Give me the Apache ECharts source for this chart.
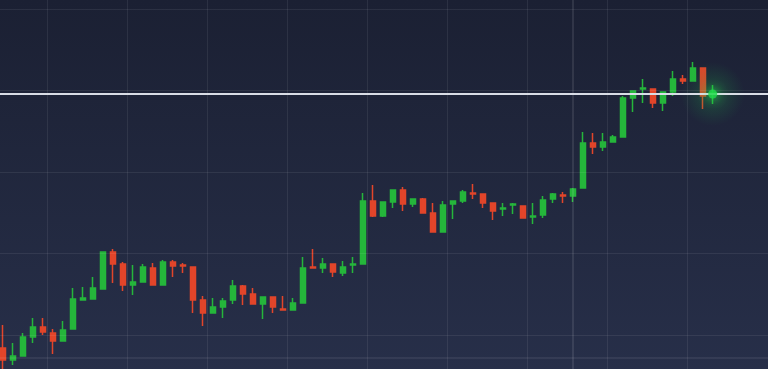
<!DOCTYPE html>
<html><head><meta charset="utf-8">
<script src="https://cdn.jsdelivr.net/npm/echarts@6/dist/echarts.min.js"></script>
<style>html,body{margin:0;padding:0;background:#1e2438;overflow:hidden;}#c{width:768px;height:369px;}</style>
</head><body><div id="c"></div>
<script>
// Candle data (price units; grid lines every 10)
const opens  = [8.40,6.93,7.42,9.75,10.98,10.25,9.26,10.74,14.29,14.42,15.64,20.18,18.71,16.13,16.50,18.22,16.13,18.96,18.59,18.34,
                14.29,12.70,13.44,14.29,16.01,15.03,13.80,14.66,13.19,13.07,13.93,18.34,18.22,18.71,17.61,18.59,18.71,26.44,24.60,26.32,
                27.79,26.07,26.69,24.97,22.64,26.07,26.44,27.42,27.30,26.20,25.46,25.95,25.83,24.48,24.72,26.69,27.18,27.06,28.04,33.56,
                33.07,33.68,34.29,39.08,40.18,40.18,38.47,39.82,41.41,41.17,42.76,39.57];
const closes = [6.93,7.42,9.75,10.98,10.37,9.26,10.61,14.42,14.54,15.77,20.18,18.71,16.13,16.50,18.34,16.13,18.96,18.47,18.47,14.29,
                12.70,13.44,14.17,16.01,15.03,13.80,14.66,13.44,13.07,13.93,18.22,18.22,18.71,17.73,18.34,18.71,26.44,24.60,26.32,27.79,
                26.07,26.69,24.97,22.64,25.95,26.44,27.55,27.30,26.20,25.21,25.58,26.07,24.36,24.60,26.56,27.30,27.06,27.91,33.56,33.07,
                33.68,34.29,39.08,39.94,40.31,38.47,39.82,41.41,41.17,42.76,39.33,39.69];
const lows   = [5.46,6.32,7.42,9.02,10.00,7.67,9.26,10.74,14.29,14.42,15.64,16.38,15.40,14.91,16.50,16.13,16.13,17.12,17.61,12.70,
                11.10,12.70,12.09,13.80,13.68,13.80,11.96,12.70,13.07,13.07,13.93,18.22,17.61,17.12,17.24,17.61,18.71,24.48,24.48,25.58,
                25.21,25.71,24.97,22.64,22.64,24.23,26.20,26.69,25.58,24.11,24.60,24.85,24.36,23.62,24.36,26.20,26.20,26.32,28.04,32.21,
                32.58,33.68,34.29,37.36,38.47,37.85,37.48,39.33,40.80,41.17,37.73,38.34];
const highs  = [11.23,9.02,10.25,12.09,12.09,10.74,11.72,15.77,15.89,17.12,20.18,20.55,18.96,18.59,18.71,18.83,19.20,19.20,18.83,18.34,
                14.79,14.54,14.54,16.75,16.13,15.77,14.66,14.66,14.79,14.54,19.57,20.55,19.45,18.71,19.08,19.57,27.42,28.40,26.32,27.79,
                28.16,26.69,26.81,26.20,26.44,26.44,27.79,28.53,27.30,26.20,26.20,26.20,25.83,26.20,27.06,27.42,27.55,28.04,34.91,34.79,
                34.79,34.54,39.33,39.94,41.41,40.18,39.82,42.39,41.90,43.50,42.76,40.67];
const currentPrice = 39.57;
const priceGridLines = [10, 20, 30, 40, 50];
const timeGridLines = [4.5, 12.5, 20.5, 28.5, 36.5, 44.5, 52.5, 60.5, 68.5];
const markerSlot = 57;
const bottomLineValue = 7.18;
const xRange = [-0.27, 76.53];
const yRange = [5.83, 51.10];

const candleData = opens.map((o, i) => [i, o, closes[i], lows[i], highs[i]]);
const lastIdx = opens.length - 1;

const gridLineStyle = {color: 'rgba(255,255,255,0.075)', width: 1, type: 'solid'};
const markData = [
  ...timeGridLines.map(v => ({xAxis: v, lineStyle: gridLineStyle})),
  ...priceGridLines.map(v => ({yAxis: v, lineStyle: gridLineStyle})),
  {xAxis: markerSlot, lineStyle: {color: 'rgba(255,255,255,0.13)', width: 1.5, type: 'solid'}},
  {yAxis: bottomLineValue, lineStyle: {color: 'rgba(255,255,255,0.09)', width: 1.5, type: 'solid'}},
  {yAxis: currentPrice, lineStyle: {color: '#d9dde6', width: 2, type: 'solid'}}
];

const chart = echarts.init(document.getElementById('c'), null, {renderer: 'canvas'});
chart.setOption({
  animation: false,
  backgroundColor: new echarts.graphic.LinearGradient(0, 0, 0, 1, [
    {offset: 0, color: '#1b2033'}, {offset: 1, color: '#272f49'}
  ]),
  grid: {left: 0, right: 0, top: 0, bottom: 0, containLabel: false},
  xAxis: {
    type: 'value', min: xRange[0], max: xRange[1],
    axisLine: {show: false}, axisTick: {show: false}, axisLabel: {show: false},
    splitLine: {show: false}
  },
  yAxis: {
    type: 'value', min: yRange[0], max: yRange[1], scale: true,
    axisLine: {show: false}, axisTick: {show: false}, axisLabel: {show: false},
    splitLine: {show: false}
  },
  series: [
    {
      type: 'line', data: [], z: 1, silent: true,
      markLine: {symbol: 'none', silent: true, label: {show: false}, animation: false, data: markData}
    },
    {
      type: 'candlestick', data: candleData, z: 3, barWidth: 5.5,
      encode: {x: 0, y: [1, 2, 3, 4]},
      itemStyle: {
        color: '#25b63b', color0: '#e2452a',
        borderColor: '#25b63b', borderColor0: '#e2452a', borderWidth: 1.5
      }
    },
    {
      type: 'scatter', z: 4, silent: true,
      data: [[lastIdx, currentPrice]],
      symbolSize: 64,
      itemStyle: {color: {type: 'radial', x: 0.5, y: 0.5, r: 0.5, colorStops: [
        {offset: 0, color: 'rgba(30,200,70,0.45)'},
        {offset: 0.5, color: 'rgba(30,180,70,0.18)'},
        {offset: 1, color: 'rgba(30,160,70,0)'}
      ]}}
    },
    {
      type: 'scatter', z: 5, silent: true,
      data: [[lastIdx, currentPrice]],
      symbolSize: 9,
      itemStyle: {color: '#1fd94a', shadowBlur: 8, shadowColor: 'rgba(40,255,80,0.8)'}
    }
  ]
});
</script></body></html>
